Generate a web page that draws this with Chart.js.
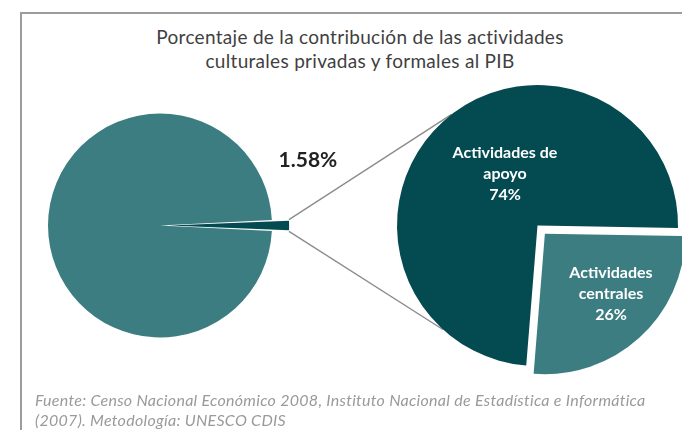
<!DOCTYPE html>
<html lang="es">
<head>
<meta charset="utf-8">
<title>Contribución de las actividades culturales al PIB</title>
<script src="https://cdn.jsdelivr.net/npm/chart.js@4.4.1/dist/chart.umd.min.js"></script>
<style>
  html, body { margin: 0; padding: 0; background: #fff; }
  #lienzo { position: relative; width: 682px; height: 430px; overflow: hidden; font-family: Lato, 'Open Sans', sans-serif; }
  #marco { position: absolute; left: 20px; top: 12px; width: 720px; height: 460px; border-top: 2px solid #9c9c9c; border-left: 2px solid #9c9c9c; }
  #titulo { position: absolute; left: 0; top: 25px; width: 720px; text-align: center; color: #3f3f3f; font-size: 19px; letter-spacing: 0.3px; line-height: 24px; }
  #fuente { position: absolute; left: 35px; top: 390px; color: #9a9a9a; font-size: 16px; letter-spacing: 0.28px; font-style: italic; line-height: 20px; white-space: nowrap; }
  canvas { position: absolute; left: 0; top: 0; }
</style>
</head>
<body>
<div id="lienzo">
  <div id="marco"></div>
  <div id="titulo">Porcentaje de la contribución de las actividades<br>culturales privadas y formales al PIB</div>
  <canvas id="pibGeneral" width="682" height="430"></canvas>
  <canvas id="detalleCultura" width="682" height="430"></canvas>
  <div id="fuente">Fuente: Censo Nacional Económico 2008, Instituto Nacional de Estadística e Informática<br>(2007). Metodología: UNESCO CDIS</div>
</div>
<script>
// Datos del PIB
const categoriasPIB = ['Actividades culturales privadas y formales', 'Resto del PIB'];
const valoresPIB = [1.58, 98.42];

// Desglose de las actividades culturales
const categoriasCultura = ['Actividades centrales', 'Actividades de apoyo'];
const etiquetasCultura = [['Actividades', 'centrales'], ['Actividades de', 'apoyo']];
const valoresCultura = [26, 74];

const verdeClaro = '#3c7d82';
const verdeOscuro = '#044a51';

// esquinas exteriores de una porción (mismo cálculo que ArcElement.draw de Chart.js v4)
function esquinasArco(arc) {
  const off = (arc.options.offset || 0) / 4;
  const mid = (arc.startAngle + arc.endAngle) / 2;
  const fix = 1 - Math.sin(Math.min(Math.PI, arc.endAngle - arc.startAngle));
  const r = arc.outerRadius + off * fix;
  const cx = arc.x + Math.cos(mid) * off;
  const cy = arc.y + Math.sin(mid) * off;
  return [arc.startAngle, arc.endAngle].map(a => ({ x: cx + Math.cos(a) * r, y: cy + Math.sin(a) * r }));
}

const etiquetaPorcentaje = {
  id: 'etiquetaPorcentaje',
  afterDatasetsDraw(chart) {
    const arc = chart.getDatasetMeta(0).data[0];
    const [arriba, abajo] = esquinasArco(arc);
    const ctx = chart.ctx;
    ctx.save();
    ctx.font = 'bold 21px Lato, sans-serif';
    ctx.fillStyle = '#222';
    ctx.textAlign = 'center';
    ctx.textBaseline = 'middle';
    ctx.fillText(valoresPIB[0].toFixed(2) + '%', arriba.x + 19, (arriba.y + abajo.y) / 2 - 65);
    ctx.restore();
  }
};

const pibChart = new Chart(document.getElementById('pibGeneral'), {
  type: 'pie',
  data: {
    labels: categoriasPIB,
    datasets: [{
      data: valoresPIB,
      backgroundColor: [verdeOscuro, verdeClaro],
      borderWidth: 0,
      offset: [36, 0]
    }]
  },
  options: {
    responsive: false,
    animation: false,
    rotation: 90 - valoresPIB[0] * 3.6 / 2,
    radius: 112,
    layout: { padding: { left: 48, right: 410, top: 113.5, bottom: 92.5 } },
    plugins: { legend: { display: false }, tooltip: { enabled: false } }
  },
  plugins: [etiquetaPorcentaje]
});

// líneas que unen la porción con el segundo gráfico y etiquetas internas
const conectoresYEtiquetas = {
  id: 'conectoresYEtiquetas',
  beforeDatasetsDraw(chart) {
    const origen = esquinasArco(pibChart.getDatasetMeta(0).data[0]);
    const arc = chart.getDatasetMeta(0).data[1];
    const angulos = [-127.7, 132.1].map(a => a * Math.PI / 180);
    const ctx = chart.ctx;
    ctx.save();
    ctx.strokeStyle = '#8c8c8c';
    ctx.lineWidth = 1.4;
    origen.forEach((p, i) => {
      ctx.beginPath();
      ctx.moveTo(p.x, p.y);
      ctx.lineTo(arc.x + Math.cos(angulos[i]) * arc.outerRadius, arc.y + Math.sin(angulos[i]) * arc.outerRadius);
      ctx.stroke();
    });
    ctx.restore();
  },
  afterDatasetsDraw(chart) {
    const meta = chart.getDatasetMeta(0);
    const desplaz = [[73.5, 68.5], [-32.5, -51.5]];
    const ctx = chart.ctx;
    ctx.save();
    ctx.font = 'bold 16px Lato, sans-serif';
    ctx.fillStyle = '#fff';
    ctx.textAlign = 'center';
    ctx.textBaseline = 'middle';
    meta.data.forEach((arc, i) => {
      const lineas = etiquetasCultura[i].concat(valoresCultura[i] + '%');
      const cx = arc.x + desplaz[i][0];
      const cy = arc.y + desplaz[i][1];
      lineas.forEach((t, j) => ctx.fillText(t, cx, cy + (j - 1) * 21));
    });
    ctx.restore();
  }
};

new Chart(document.getElementById('detalleCultura'), {
  type: 'pie',
  data: {
    labels: categoriasCultura,
    datasets: [{
      data: valoresCultura,
      backgroundColor: [verdeClaro, verdeOscuro],
      borderWidth: 0,
      offset: [44, 0]
    }]
  },
  options: {
    responsive: false,
    animation: false,
    rotation: 91,
    radius: 140.5,
    layout: { padding: { left: 397.5, right: 4.5, top: 85.5, bottom: 64.5 } },
    plugins: { legend: { display: false }, tooltip: { enabled: false } }
  },
  plugins: [conectoresYEtiquetas]
});
</script>
</body>
</html>
